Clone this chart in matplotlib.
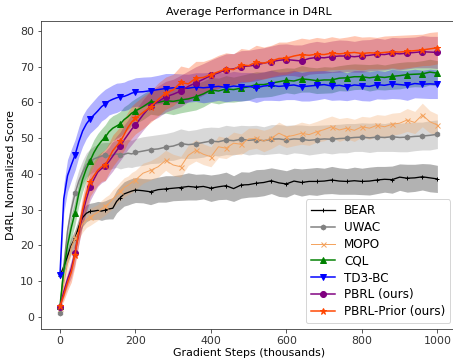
import numpy as np
import matplotlib
matplotlib.use("Agg")
import matplotlib.pyplot as plt

# --------------
# Data (thousands of gradient steps)
# --------------
steps = list(range(0, 201, 10)) + list(range(220, 1001, 20))

bear = [11.5, 14.0, 17.0, 20.0, 22.0, 25.3, 27.8, 29.0, 29.5, 29.6, 29.8, 29.6, 29.9, 30.2, 30.4, 32.3, 33.4, 34.4, 34.8, 35.2, 35.5,
        35.3, 35.0, 35.6, 35.8, 36.0, 36.2, 36.5, 36.3, 36.5, 36.0, 36.4, 36.7, 35.9, 36.9, 37.0, 37.4, 37.6, 38.1, 37.5, 37.2,
        38.0, 37.6, 37.9, 37.9, 38.0, 38.3, 38.0, 37.9, 38.1, 37.9, 38.0, 38.3, 38.5, 38.4, 39.1, 38.8, 38.9, 39.2, 38.9, 38.6]
bear_sd = [1.0, 1.5, 2.0, 2.2, 2.4, 2.4, 2.5, 2.4, 2.3, 2.4, 2.5, 2.6, 2.6, 2.8, 3.0, 3.2, 3.3, 3.4, 3.5, 3.5, 3.5,
           3.4, 3.6, 3.5, 3.7, 3.5, 3.6, 3.8, 3.6, 3.5, 3.7, 3.6, 3.8, 3.6, 3.7, 3.5, 3.8, 3.7, 3.6, 3.8, 3.7,
           3.6, 3.8, 3.7, 3.9, 3.6, 3.8, 3.7, 3.6, 3.8, 3.7, 3.9, 3.8, 3.6, 3.8, 3.7, 3.9, 3.8, 3.7, 3.9, 3.8]

uwac = [1.0, 14.0, 24.0, 30.0, 34.6, 38.0, 40.5, 42.5, 43.5, 44.2, 44.6, 45.0, 45.2, 45.0, 45.3, 45.6, 45.3, 45.5, 45.8, 45.6, 46.0,
        46.4, 46.8, 47.0, 47.5, 47.8, 48.5, 48.2, 48.4, 48.8, 49.2, 49.0, 49.5, 49.3, 49.7, 49.4, 49.6, 49.3, 49.7, 49.8, 49.5,
        49.8, 49.7, 49.4, 49.6, 49.8, 49.7, 49.9, 50.0, 50.2, 50.3, 50.1, 50.3, 50.2, 50.4, 50.2, 50.3, 50.5, 50.6, 50.8, 51.1]
uwac_sd = [0.5, 2.0, 2.5, 2.8, 3.0, 3.2, 3.3, 3.4, 3.5, 3.6, 3.6, 3.7, 3.6, 3.8, 3.7, 3.8, 3.9, 3.8, 3.9, 3.8, 3.9,
           4.0, 3.9, 4.0, 3.8, 4.0, 4.1, 3.9, 4.0, 4.1, 3.9, 4.0, 4.1, 4.0, 3.9, 4.1, 4.0, 3.9, 4.1, 4.0, 4.1,
           3.9, 4.0, 4.1, 4.0, 3.9, 4.1, 4.0, 4.1, 3.9, 4.0, 4.1, 4.0, 3.9, 4.1, 4.0, 4.1, 4.0, 3.9, 4.1, 4.0]

mopo = [2.5, 9.0, 15.0, 19.5, 22.0, 24.0, 26.0, 27.2, 28.0, 28.6, 29.2, 30.2, 31.0, 31.8, 33.0, 34.1, 35.2, 36.2, 36.8, 37.6, 38.3,
        40.2, 41.0, 42.0, 43.8, 42.5, 42.0, 45.2, 46.6, 45.5, 44.8, 47.6, 47.2, 48.6, 48.3, 49.8, 50.0, 49.2, 50.0, 51.4, 50.4,
        50.8, 51.4, 51.0, 51.8, 52.4, 53.2, 52.3, 52.8, 52.2, 53.2, 52.8, 53.6, 53.2, 53.9, 54.2, 55.1, 54.4, 56.5, 54.6, 53.7]
mopo_sd = [0.5, 1.5, 2.0, 2.0, 2.2, 2.2, 2.3, 2.2, 2.4, 2.3, 2.2, 2.4, 2.5, 2.4, 2.6, 2.5, 2.6, 2.7, 2.6, 2.8, 2.7,
           2.8, 2.7, 2.9, 2.8, 3.0, 2.9, 2.8, 3.0, 2.9, 2.8, 3.0, 2.9, 3.1, 2.9, 3.0, 2.8, 3.0, 2.9, 3.1, 3.0,
           2.9, 3.1, 3.0, 2.9, 3.1, 3.0, 3.2, 3.0, 3.1, 2.9, 3.1, 3.0, 3.2, 3.1, 3.0, 3.2, 3.1, 3.3, 3.1, 3.0]

cql = [3.0, 13.0, 20.0, 25.0, 29.2, 34.5, 38.5, 41.5, 43.7, 46.0, 47.8, 49.2, 50.3, 51.8, 52.8, 53.4, 54.0, 55.2, 56.0, 57.0, 57.6,
       58.8, 60.2, 60.0, 60.5, 60.3, 60.7, 61.0, 61.6, 62.4, 63.5, 63.2, 63.8, 63.6, 64.0, 64.4, 65.0, 65.0, 65.4, 65.8, 66.2,
       66.0, 66.6, 66.4, 66.1, 66.3, 66.3, 66.8, 66.9, 67.2, 67.2, 66.9, 67.2, 67.0, 67.3, 67.5, 67.8, 67.9, 68.0, 68.5, 68.2]
cql_sd = [0.5, 2.5, 3.0, 3.2, 3.3, 3.4, 3.5, 3.4, 3.5, 3.6, 3.5, 3.4, 3.5, 3.6, 3.5, 3.4, 3.5, 3.6, 3.5, 3.4, 3.5,
          3.6, 3.5, 3.6, 3.5, 3.7, 3.6, 3.5, 3.7, 3.6, 3.5, 3.6, 3.7, 3.5, 3.6, 3.7, 3.6, 3.5, 3.7, 3.6, 3.5,
          3.6, 3.7, 3.5, 3.6, 3.7, 3.6, 3.5, 3.7, 3.6, 3.5, 3.7, 3.6, 3.5, 3.6, 3.7, 3.6, 3.5, 3.7, 3.6, 3.5]

td3bc = [11.7, 33.0, 39.5, 42.5, 45.3, 49.0, 52.0, 54.0, 55.4, 56.5, 57.6, 58.8, 59.6, 60.4, 60.9, 61.3, 61.6, 61.7, 62.1, 62.6, 62.9,
         63.0, 63.3, 63.6, 63.9, 64.1, 63.9, 64.0, 64.3, 64.1, 64.3, 64.5, 64.2, 64.6, 64.4, 64.5, 64.1, 64.6, 64.8, 64.5, 64.7,
         64.9, 64.4, 64.6, 64.8, 65.0, 64.6, 64.8, 64.4, 64.9, 64.7, 64.5, 65.0, 64.8, 65.2, 65.0, 64.8, 65.3, 65.1, 65.2, 65.1]
td3bc_sd = [1.5, 4.0, 4.5, 4.4, 4.3, 4.2, 4.3, 4.1, 4.0, 4.1, 4.2, 4.0, 4.1, 3.9, 4.0, 4.1, 3.9, 4.0, 4.1, 3.9, 4.0,
            4.1, 3.9, 4.0, 4.2, 4.0, 4.1, 3.9, 4.0, 4.2, 4.1, 3.9, 4.0, 4.1, 4.0, 3.9, 4.1, 4.0, 4.2, 4.0, 3.9,
            4.1, 4.0, 4.2, 4.1, 3.9, 4.0, 4.1, 3.9, 4.0, 4.2, 4.1, 4.0, 3.9, 4.1, 4.0, 4.2, 4.0, 3.9, 4.1, 4.0]

pbrl = [2.8, 7.0, 10.5, 13.5, 18.0, 23.5, 29.0, 33.0, 36.4, 38.5, 40.5, 41.5, 42.2, 43.5, 45.0, 46.5, 47.8, 49.5, 51.0, 52.5, 53.7,
        56.5, 59.0, 60.2, 61.6, 62.3, 63.2, 64.5, 65.5, 66.5, 67.6, 68.3, 69.2, 69.4, 70.0, 70.2, 70.5, 71.0, 71.4, 71.8, 72.0,
        71.8, 71.6, 72.3, 72.6, 72.5, 72.8, 73.0, 73.0, 72.8, 73.0, 73.2, 73.5, 73.4, 73.8, 73.6, 73.8, 74.0, 74.2, 74.1, 74.0]
pbrl_sd = [0.5, 1.5, 2.0, 2.5, 3.0, 3.2, 3.5, 3.6, 3.8, 3.9, 4.0, 4.0, 4.1, 4.0, 4.2, 4.1, 4.0, 4.2, 4.1, 4.3, 4.2,
           4.3, 4.2, 4.4, 4.3, 4.2, 4.4, 4.3, 4.5, 4.4, 4.3, 4.5, 4.4, 4.3, 4.5, 4.4, 4.5, 4.3, 4.4, 4.5, 4.4,
           4.3, 4.5, 4.4, 4.5, 4.3, 4.4, 4.5, 4.4, 4.3, 4.5, 4.4, 4.5, 4.3, 4.4, 4.5, 4.4, 4.3, 4.5, 4.4, 4.5]

prior = [3.0, 6.0, 9.5, 12.5, 17.4, 24.0, 30.0, 34.5, 37.8, 39.5, 41.0, 42.0, 42.5, 44.5, 46.5, 47.8, 49.1, 51.0, 53.0, 54.5, 55.6,
         57.2, 58.8, 60.8, 62.6, 63.5, 65.6, 65.2, 66.8, 67.0, 67.8, 68.6, 69.4, 69.2, 70.5, 70.3, 71.3, 71.0, 71.6, 72.3, 72.4,
         73.0, 73.4, 73.2, 73.5, 73.4, 73.8, 73.6, 73.8, 74.0, 73.7, 73.9, 73.8, 74.0, 74.2, 74.1, 74.3, 74.5, 74.7, 75.0, 75.3]
prior_sd = [0.5, 1.5, 2.2, 2.8, 3.2, 3.5, 3.8, 3.9, 4.0, 4.1, 4.2, 4.1, 4.3, 4.2, 4.4, 4.3, 4.2, 4.4, 4.3, 4.5, 4.4,
            4.5, 4.4, 4.6, 4.5, 4.4, 4.6, 4.5, 4.7, 4.5, 4.4, 4.6, 4.5, 4.4, 4.6, 4.5, 4.7, 4.5, 4.4, 4.6, 4.5,
            4.4, 4.6, 4.5, 4.7, 4.5, 4.6, 4.4, 4.5, 4.7, 4.6, 4.5, 4.4, 4.6, 4.5, 4.7, 4.6, 4.5, 4.4, 4.6, 4.5]

names = ["BEAR", "UWAC", "MOPO", "CQL", "TD3-BC", "PBRL (ours)", "PBRL-Prior (ours)"]
means = [bear, uwac, mopo, cql, td3bc, pbrl, prior]
sds = [bear_sd, uwac_sd, mopo_sd, cql_sd, td3bc_sd, pbrl_sd, prior_sd]

# --------------
# Styles
# --------------
colors = ["black", "gray", "sandybrown", "green", "blue", "purple", "orangered"]
markers = ["+", "h", "x", "^", "v", "o", "*"]
msizes = [4, 5, 5, 6, 6, 6, 7]
lwidths = [1.3, 1.5, 1.0, 1.5, 1.5, 1.5, 1.5]

x = np.array(steps)
mark_idx = [i for i, s in enumerate(steps) if s % 40 == 0]

plt.rcParams["axes.edgecolor"] = "#333333"
plt.rcParams["xtick.color"] = "#333333"
plt.rcParams["ytick.color"] = "#333333"

fig = plt.figure(figsize=(453 / 72, 360 / 72), dpi=72)
ax = fig.add_axes([0.0907, 0.0861, 0.9165, 0.8556])

for name, m, sd, c, mk, ms, lw in zip(names, means, sds, colors, markers, msizes, lwidths):
    m = np.array(m)
    sd = np.array(sd)
    ax.fill_between(x, m - sd, m + sd, color=c, alpha=0.3, linewidth=0)
    ax.plot(x, m, color=c, marker=mk, markersize=ms, linewidth=lw,
            markevery=mark_idx, label=name)

ax.set_xlim(-50, 1050)
ax.set_ylim(-3.4, 82.8)
ax.set_xticks([0, 200, 400, 600, 800, 1000])
ax.set_yticks(range(0, 81, 10))
ax.set_title("Average Performance in D4RL", fontsize=11)
ax.set_xlabel("Gradient Steps (thousands)", fontsize=11, labelpad=2)
ax.set_ylabel("D4RL Normalized Score", fontsize=11)
ax.tick_params(labelsize=11)
ax.legend(loc="lower right", fontsize=12, labelspacing=0.32)

fig.savefig("out.png", dpi=72)
